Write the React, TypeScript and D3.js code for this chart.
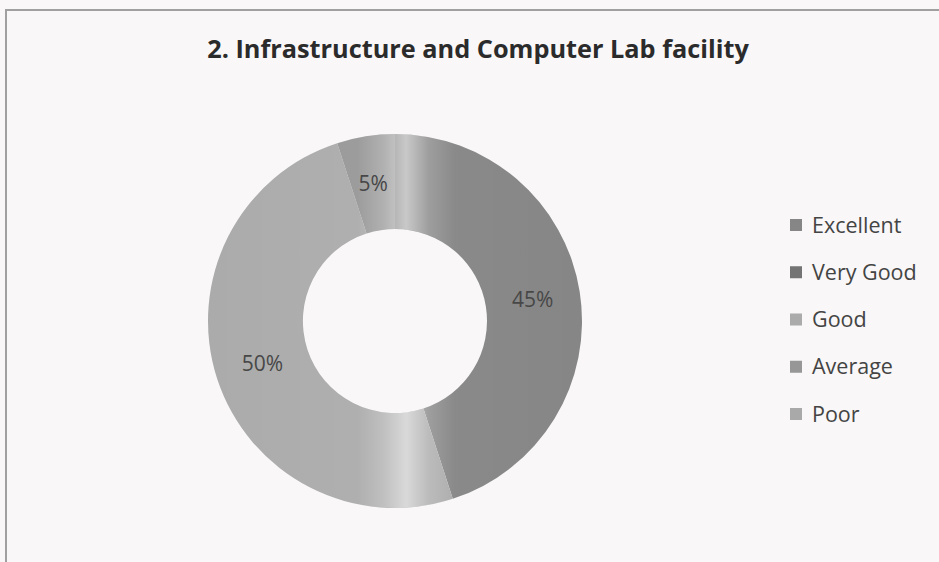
import { useRef, useEffect } from "react";
import * as d3 from "d3";

const categories = ["Excellent", "Very Good", "Good", "Average", "Poor"];
const values = [45, 0, 50, 5, 0];
const colors = ["#868686", "#747474", "#ababab", "#979797", "#a9a9a9"];

const width = 939;
const height = 562;
const cx = 395;
const cy = 321;
const outerR = 187;
const innerR = 92;

type Slice = { name: string; value: number; color: string };

const App = () => {
  const svgRef = useRef<SVGSVGElement>(null);

  useEffect(() => {
    const svg = d3.select(svgRef.current);
    svg.selectAll("*").remove();

    // soft vertical sheen like the scanned original
    const defs = svg.append("defs");
    const shine = defs
      .append("linearGradient")
      .attr("id", "shine")
      .attr("gradientUnits", "userSpaceOnUse")
      .attr("x1", -outerR)
      .attr("x2", outerR)
      .attr("y1", 0)
      .attr("y2", 0);
    [
      [0, 0],
      [40, 0.05],
      [47, 0.25],
      [53, 0.55],
      [59, 0.2],
      [66, 0.03],
      [100, 0],
    ].forEach(([o, a]) =>
      shine
        .append("stop")
        .attr("offset", `${o}%`)
        .attr("stop-color", "#fff")
        .attr("stop-opacity", a)
    );

    svg.append("rect").attr("width", width).attr("height", height).attr("fill", "#f9f7f7");
    svg
      .append("path")
      .attr("d", `M6,${height} V10 H${width}`)
      .attr("fill", "none")
      .attr("stroke", "#a0a0a0")
      .attr("stroke-width", 2);

    svg
      .append("text")
      .attr("x", 478)
      .attr("y", 58)
      .attr("text-anchor", "middle")
      .attr("font-family", "'Open Sans', sans-serif")
      .attr("font-weight", "bold")
      .attr("font-size", 25.3)
      .attr("fill", "#2b2b2b")
      .text("2. Infrastructure and Computer Lab facility");

    const data: Slice[] = categories.map((c, i) => ({ name: c, value: values[i], color: colors[i] }));
    const pie = d3
      .pie<Slice>()
      .value((d) => d.value)
      .sort(null);
    const arc = d3.arc<d3.PieArcDatum<Slice>>().innerRadius(innerR).outerRadius(outerR);
    const arcs = pie(data).filter((d) => d.data.value > 0);

    const g = svg.append("g").attr("transform", `translate(${cx},${cy})`);
    g.selectAll("path.slice")
      .data(arcs)
      .enter()
      .append("path")
      .attr("class", "slice")
      .attr("d", arc)
      .attr("fill", (d) => d.data.color);

    g.append("path")
      .attr(
        "d",
        d3.arc()({ innerRadius: innerR, outerRadius: outerR, startAngle: 0, endAngle: 2 * Math.PI }) as string
      )
      .attr("fill", "url(#shine)");

    const labelArc = d3
      .arc<d3.PieArcDatum<Slice>>()
      .innerRadius(innerR + 45)
      .outerRadius(outerR - 45);

    g.selectAll("text.lbl")
      .data(arcs)
      .enter()
      .append("text")
      .attr("class", "lbl")
      .attr("transform", (d) => `translate(${labelArc.centroid(d)})`)
      .attr("text-anchor", "middle")
      .attr("dy", "0.35em")
      .attr("font-family", "'Open Sans', sans-serif")
      .attr("font-size", 21)
      .attr("fill", "#474747")
      .text((d) => `${d.data.value}%`);

    const y = d3.scalePoint().domain(categories).range([225, 414]);

    const item = svg
      .append("g")
      .selectAll("g")
      .data(data)
      .enter()
      .append("g")
      .attr("transform", (d) => `translate(790,${y(d.name)})`);
    item
      .append("rect")
      .attr("x", 0)
      .attr("y", -6)
      .attr("width", 12)
      .attr("height", 12)
      .attr("fill", (d) => d.color);
    item
      .append("text")
      .attr("x", 22)
      .attr("dy", "0.35em")
      .attr("font-family", "'Open Sans', sans-serif")
      .attr("font-size", 21.5)
      .attr("fill", "#444")
      .text((d) => d.name);
  }, []);

  return (
    <svg
      ref={svgRef}
      width={width}
      height={height}
      style={{ position: "absolute", left: 0, top: 0, display: "block" }}
    ></svg>
  );
};

export default App;
